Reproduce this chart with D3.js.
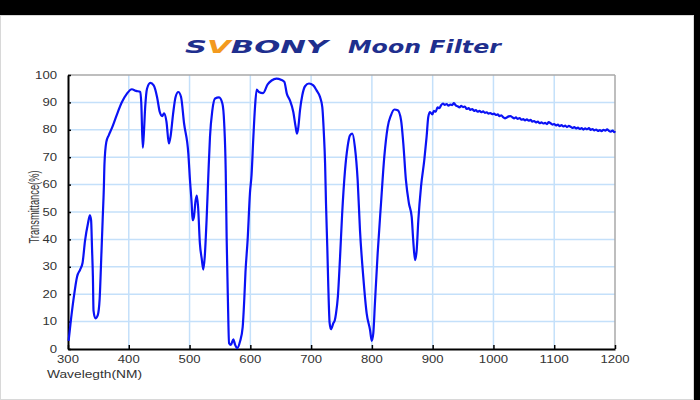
<!DOCTYPE html>
<html>
<head>
<meta charset="utf-8">
<script src="https://cdn.jsdelivr.net/npm/d3@7"></script>
<style>
html,body{margin:0;padding:0;background:#000;}
svg{display:block;}
</style>
</head>
<body>
<svg id="chart" width="700" height="400"></svg>
<script>
// ---- data ----
const wavelength = [301,304,309,315,320,324,328,333,336,338,339.5,341,342,345,349,352,355,357,359,360,363,367,372,380,389,397,405,412,419,420.6,423,424.5,427,430,435.5,441,446.5,451,455,458,462,466,469,473,477,481.5,486,491,498,500.7,503.5,505,507,510,512,514,517,520,522.6,525,528,531,533.6,537.5,542,548.5,554,557,559.5,561,563,565,568,572,575,578.5,583,587.4,590,592,595.6,599.4,602,605,607.7,610.5,614,621,628.5,635,643,650.4,656,660,665,670.7,674.6,676.8,679,681.7,685.5,690,696.5,703.6,709,714.6,718.4,721,723,724.5,726.6,728.3,730.5,732.7,736.5,739,741,744,747.5,751,755.7,760,764,767.8,772,776.6,780.4,785.8,791.4,797,799.7,802.3,805,809.5,815,820.4,826,831.4,837,842.5,848,851.7,856,861,865.5,868,871,873.7,876.4,880.8,886.2,890,892.8,895.6,899.4,902,905,908,911,914,917,920,923,926,929,932,935,938,941,944,947,950,953,956,959,962,965,968,971,974,977,980,983,986,989,992,995,998,1001,1004,1007,1010,1013,1016,1019,1022,1025,1028,1031,1034,1037,1040,1043,1046,1049,1052,1055,1058,1061,1064,1067,1070,1073,1076,1079,1082,1085,1088,1091,1094,1097,1100,1103,1106,1109,1112,1115,1118,1121,1124,1127,1130,1133,1136,1139,1142,1145,1148,1151,1154,1157,1160,1163,1166,1169,1172,1175,1178,1181,1184,1187,1190,1193,1196,1199,1200];
const transmittance = [3,9,18,26.5,29,31.5,39.5,46,48.8,47,37,26,14,11.2,12.4,18,35,47,59,67.5,75.5,78,80.5,85.3,90.2,93.2,94.8,94.2,93.8,89.6,73.5,77.4,88.3,95,97.1,96.2,92,86.5,85,86,83,75,78,86,92,93.8,92,82.3,71.3,61.6,53,47,48,54.3,56,52,38.5,33,29,33.7,47,64,77.4,87.1,91.4,91.8,89.6,82.3,65,41,19,2.1,1.5,3.5,1.5,0.3,2.7,8,18,28,40,57,63.5,77.4,88.3,94.7,93.8,93.4,96.6,98,98.7,98.3,97.5,93.2,90.8,86.5,81,78.6,81,87.1,92.6,95.9,96.9,96.2,94.4,92,88.3,78.6,67.7,53.1,37.3,22.7,9.4,7.2,9.4,10.5,13,19,33,49,65,73.8,78,78.6,73.8,61.6,43.4,26.4,13,6.9,3,5.7,16.7,34.9,53.1,70.1,81,85.3,87.4,87.1,83.5,75,61.6,53.1,48.2,39.7,32.4,36.1,47,59.2,68.9,77.4,84.7,86.5,85.6,86.9,86.6,88.2,87.9,89.0,89.6,89.1,89.4,88.8,89.2,89.0,89.7,88.9,88.6,88.2,88.7,88.3,88.5,87.6,87.9,87.3,87.6,86.9,87.2,86.6,86.9,86.4,86.7,86.2,86.4,85.9,86.1,85.7,85.9,85.4,85.6,85.0,85.3,84.6,84.2,84.5,84.9,85.0,84.6,84.2,84.5,84.0,84.3,83.7,83.9,83.4,83.8,83.3,83.6,83.0,83.2,82.7,83.0,82.4,82.7,82.3,82.5,82.1,82.8,82.4,81.9,82.1,81.6,81.9,81.3,81.7,81.2,81.5,81.0,81.4,81.1,80.7,81.0,80.5,80.8,80.3,80.6,80.1,80.5,80.2,80.6,80.0,80.3,79.8,80.1,79.6,79.9,79.5,80.0,79.7,80.2,79.6,79.3,79.7,79.1,79.5];
const xTicks = [300,400,500,600,700,800,900,1000,1100,1200];
const yTicks = [0,10,20,30,40,50,60,70,80,90,100];
const xLabel = "Wavelegth(NM)";
const yLabel = "Transmittance(%)";
const titleBrand = ["S","V","BONY"];
const titleText = "Moon Filter";

// ---- drawing ----
const svg = d3.select("#chart");
svg.append("rect").attr("x",0).attr("y",0).attr("width",700).attr("height",400).attr("fill","#000");
svg.append("rect").attr("x",0.5).attr("y",15.5).attr("width",693).attr("height",384)
  .attr("fill","#fff").attr("stroke","#d8d8d8").attr("stroke-width",1);

const x = d3.scaleLinear().domain([300,1200]).range([68,615]);
const y = d3.scaleLinear().domain([0,100]).range([349,75]);

// grid
const grid = svg.append("g");
grid.selectAll("line.v").data(xTicks.slice(1,-1)).join("line")
  .attr("x1",d=>x(d)).attr("x2",d=>x(d)).attr("y1",y(100)).attr("y2",y(0))
  .attr("stroke","#c4e0fa").attr("stroke-width",1.5);
grid.selectAll("line.h").data(yTicks.slice(1,-1)).join("line")
  .attr("x1",x(300)).attr("x2",x(1200)).attr("y1",d=>y(d)).attr("y2",d=>y(d))
  .attr("stroke","#c4e0fa").attr("stroke-width",1.5);

// frame top/right
svg.append("line").attr("x1",x(300)).attr("x2",x(1200)).attr("y1",y(100)).attr("y2",y(100))
  .attr("stroke","#a8a8a8").attr("stroke-width",1.5);
svg.append("line").attr("x1",x(1200)).attr("x2",x(1200)).attr("y1",y(100)).attr("y2",y(0))
  .attr("stroke","#a8a8a8").attr("stroke-width",1.5);

// axes
const xAxis = d3.axisBottom(x).tickValues(xTicks).tickSizeInner(-4).tickSizeOuter(0).tickFormat("");
const gx = svg.append("g").attr("transform",`translate(0,${y(0)})`).call(xAxis);
gx.select(".domain").attr("stroke","#000").attr("stroke-width",2);
gx.selectAll(".tick line").attr("stroke","#000").attr("stroke-width",1.5);

const yAxis = d3.axisLeft(y).tickValues(yTicks).tickSizeInner(-3).tickSizeOuter(0).tickFormat("");
const gy = svg.append("g").attr("transform",`translate(${x(300)},0)`).call(yAxis);
gy.select(".domain").attr("stroke","#000").attr("stroke-width",2);
gy.selectAll(".tick line").attr("stroke","#000").attr("stroke-width",1.5);

// tick labels
svg.append("g").selectAll("text").data(xTicks).join("text")
  .attr("x",d=>x(d)).attr("y",363)
  .attr("text-anchor","middle")
  .attr("font-family","Liberation Sans, Arial, sans-serif").attr("font-size",10.5)
  .attr("fill","#333")
  .attr("textLength",d=>String(d).length*7.3).attr("lengthAdjust","spacingAndGlyphs")
  .text(d=>d);
svg.append("g").selectAll("text").data(yTicks).join("text")
  .attr("x",57).attr("y",d=>y(d)+3.5)
  .attr("text-anchor","end")
  .attr("font-family","Liberation Sans, Arial, sans-serif").attr("font-size",10)
  .attr("fill","#333")
  .attr("textLength",d=>String(d).length*7.3).attr("lengthAdjust","spacingAndGlyphs")
  .text(d=>d);

// axis titles
svg.append("text").attr("x",47).attr("y",378)
  .attr("font-family","Liberation Sans, Arial, sans-serif").attr("font-size",10.5).attr("fill","#333")
  .attr("textLength",95).attr("lengthAdjust","spacingAndGlyphs").text(xLabel);
svg.append("text")
  .attr("transform","translate(39,207) rotate(-90) scale(1,1.55)")
  .attr("text-anchor","middle")
  .attr("font-family","Liberation Sans, Arial, sans-serif").attr("font-size",9.3).attr("fill","#333")
  .text(yLabel);

// title
const t1 = svg.append("text").attr("x",185).attr("y",53)
  .attr("font-family","DejaVu Sans, sans-serif").attr("font-weight","bold").attr("font-style","italic")
  .attr("font-size",17).attr("fill","#1f2f8e")
  .attr("textLength",143).attr("lengthAdjust","spacingAndGlyphs");
t1.selectAll("tspan").data(titleBrand).join("tspan")
  .attr("fill",(d,i)=>i===1?"#f39a1e":"#1f2f8e").text(d=>d);
svg.append("text").attr("x",348).attr("y",53)
  .attr("font-family","DejaVu Sans, sans-serif").attr("font-weight","bold").attr("font-style","italic")
  .attr("font-size",17).attr("fill","#1f2f8e")
  .attr("textLength",153).attr("lengthAdjust","spacingAndGlyphs").text(titleText);

// curve
const pts = wavelength.map((w,i)=>[w,transmittance[i]]);
const line = d3.line().x(d=>x(d[0])).y(d=>y(d[1])).curve(d3.curveMonotoneX);
svg.append("path").datum(pts).attr("d",line)
  .attr("fill","none").attr("stroke","#0a12f5").attr("stroke-width",2.2)
  .attr("stroke-linejoin","round");
</script>
</body>
</html>
